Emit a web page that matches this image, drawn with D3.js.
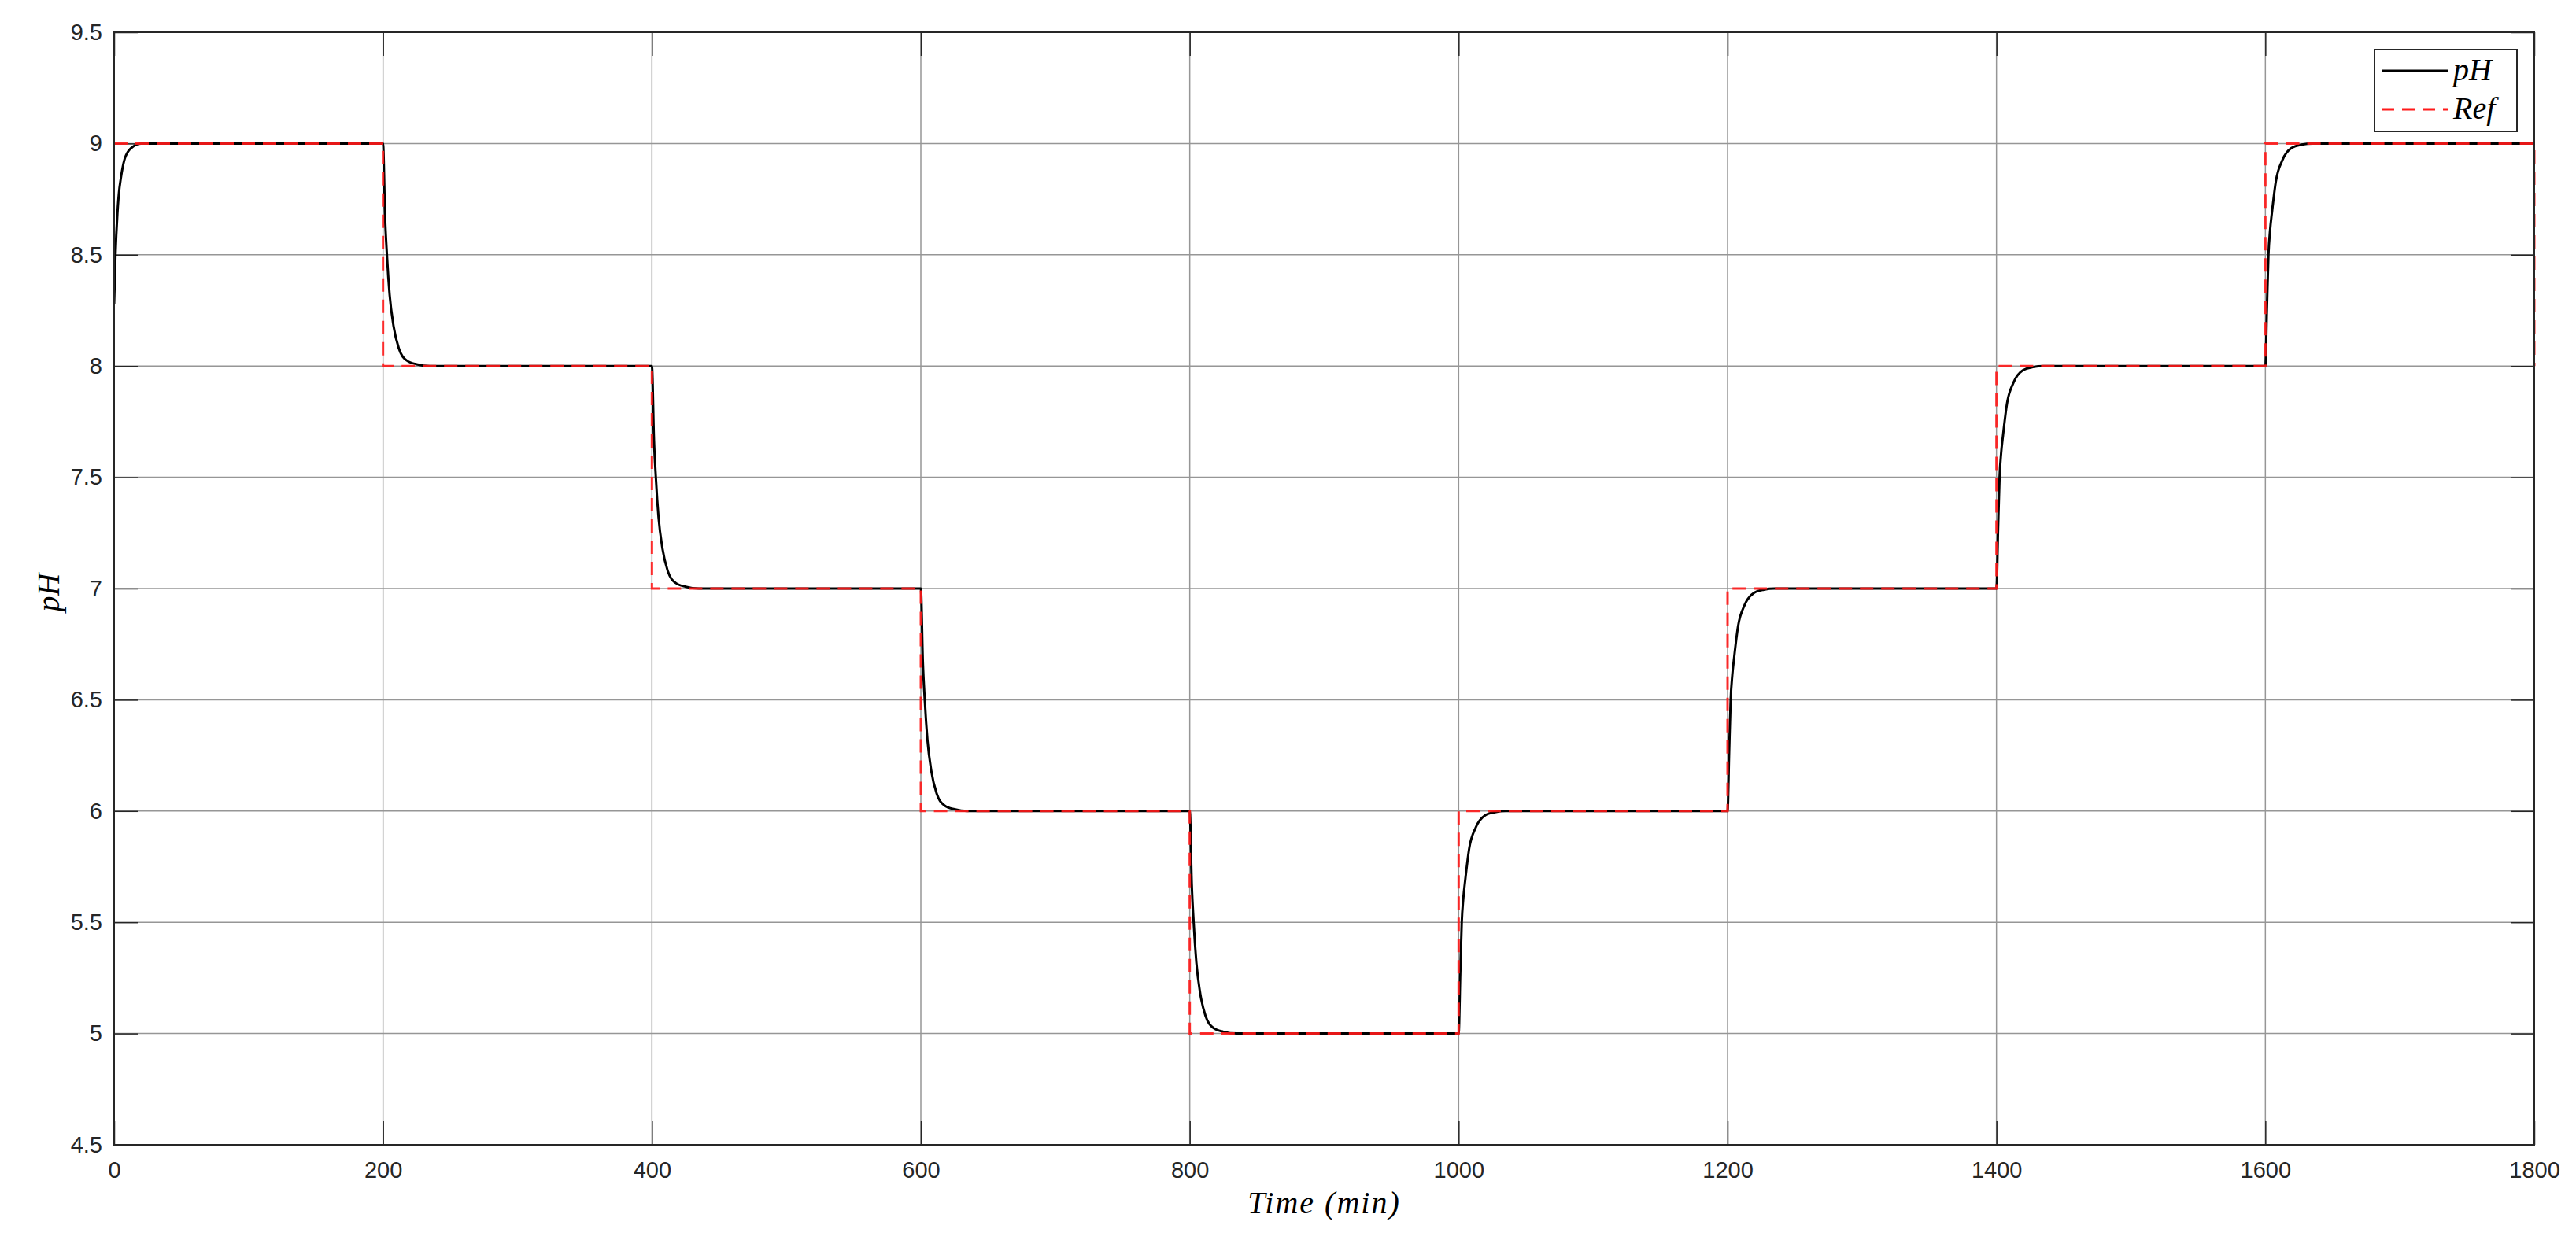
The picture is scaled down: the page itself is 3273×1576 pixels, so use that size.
<!DOCTYPE html>
<html>
<head>
<meta charset="utf-8">
<script src="https://cdn.jsdelivr.net/npm/d3@7"></script>
<style>
  body { margin: 0; background: #fff; }
  .tick text { font-family: "Liberation Sans", Arial, sans-serif; font-size: 29px; fill: #262626; }
  .latex { font-family: "Liberation Serif", "Times New Roman", serif; font-style: italic; fill: #000; }
</style>
</head>
<body>
<svg id="chart" width="3273" height="1576"></svg>
<script>
// axis ticks
var xTicks = [0, 200, 400, 600, 800, 1000, 1200, 1400, 1600, 1800];
var yTicks = [4.5, 5, 5.5, 6, 6.5, 7, 7.5, 8, 8.5, 9, 9.5];

// reference set point (time in min, pH)
var refTime  = [0, 200, 200, 400, 400, 600, 600, 800, 800, 1000, 1000, 1200, 1200, 1400, 1400, 1600, 1600, 1800, 1800];
var refValue = [9, 9,   8,   8,   7,   7,   6,   6,   5,   5,    6,    6,    7,    7,    8,    8,    9,    9,    8];

var phTime = [
  0, 1, 2.5, 3.6, 4.9, 7.8, 12.7, 20, 200,
  201.5, 202.9, 203.9, 204.9, 207.8, 211.7, 217.6, 225, 235, 400,
  401.5, 402.9, 403.9, 404.9, 407.8, 411.7, 417.6, 425, 435, 600,
  601.5, 602.9, 603.9, 604.9, 607.8, 611.7, 617.6, 625, 635, 800,
  801.5, 802.9, 803.9, 804.9, 807.8, 811.7, 817.6, 825, 835, 1000,
  1001.2, 1002.3, 1003.5, 1004.9, 1007.8, 1012.7, 1019.5, 1027, 1035, 1200,
  1201.2, 1202.3, 1203.5, 1204.9, 1207.8, 1212.7, 1219.5, 1227, 1235, 1400,
  1401.2, 1402.3, 1403.5, 1404.9, 1407.8, 1412.7, 1419.5, 1427, 1435, 1600,
  1601.2, 1602.3, 1603.5, 1604.9, 1607.8, 1612.7, 1619.5, 1627, 1635, 1800
];
var phValue = [
  8.28, 8.5, 8.69, 8.78, 8.84, 8.93, 8.98, 9.0, 9.0,
  8.67, 8.5, 8.4, 8.32, 8.18, 8.08, 8.025, 8.008, 8.0, 8.0,
  7.67, 7.5, 7.4, 7.32, 7.18, 7.08, 7.025, 7.008, 7.0, 7.0,
  6.67, 6.5, 6.4, 6.32, 6.18, 6.08, 6.025, 6.008, 6.0, 6.0,
  5.67, 5.5, 5.4, 5.32, 5.18, 5.08, 5.025, 5.008, 5.0, 5.0,
  5.27, 5.5, 5.61, 5.69, 5.83, 5.926, 5.98, 5.995, 6.0, 6.0,
  6.27, 6.5, 6.61, 6.69, 6.83, 6.926, 6.98, 6.995, 7.0, 7.0,
  7.27, 7.5, 7.61, 7.69, 7.83, 7.926, 7.98, 7.995, 8.0, 8.0,
  8.27, 8.5, 8.61, 8.69, 8.83, 8.926, 8.98, 8.995, 9.0, 9.0
];

var legendNames = ["pH", "Ref"];

var plotLeft = 145, plotRight = 3220, plotTop = 41, plotBottom = 1455;
var svg = d3.select("#chart");

var x = d3.scaleLinear().domain([0, 1800]).range([plotLeft, plotRight]);
var y = d3.scaleLinear().domain([4.5, 9.5]).range([plotBottom, plotTop]);

/*
grid lines
*/
var grid = svg.append("g").attr("class", "grid");
grid.selectAll("line.gx")
  .data(xTicks.slice(1, -1)).enter().append("line")
  .attr("x1", function(d) { return x(d); })
  .attr("x2", function(d) { return x(d); })
  .attr("y1", plotTop).attr("y2", plotBottom)
  .attr("stroke", "#969696").attr("stroke-width", 1.5);
grid.selectAll("line.gy")
  .data(yTicks.slice(1, -1)).enter().append("line")
  .attr("x1", plotLeft).attr("x2", plotRight)
  .attr("y1", function(d) { return y(d); })
  .attr("y2", function(d) { return y(d); })
  .attr("stroke", "#969696").attr("stroke-width", 1.5);

/*
axes, ticks pointing inward
*/
var fmt = function(d) { return String(d); };
svg.append("g").attr("transform", "translate(0," + plotBottom + ")")
  .call(d3.axisBottom(x).tickValues(xTicks).tickFormat(fmt).tickSizeInner(-30).tickSizeOuter(0).tickPadding(21));
svg.append("g").attr("transform", "translate(" + plotLeft + ",0)")
  .call(d3.axisLeft(y).tickValues(yTicks).tickFormat(fmt).tickSizeInner(-30).tickSizeOuter(0).tickPadding(15));
svg.append("g").attr("transform", "translate(0," + plotTop + ")")
  .call(d3.axisTop(x).tickValues(xTicks).tickFormat("").tickSizeInner(-30).tickSizeOuter(0));
svg.append("g").attr("transform", "translate(" + plotRight + ",0)")
  .call(d3.axisRight(y).tickValues(yTicks).tickFormat("").tickSizeInner(-30).tickSizeOuter(0));
svg.selectAll(".domain").remove();
svg.selectAll(".tick line").attr("stroke", "#262626").attr("stroke-width", 1.5);

/*
lines
*/
var phData = phTime.map(function(t, i) { return [t, phValue[i]]; });
var refData = refTime.map(function(t, i) { return [t, refValue[i]]; });

var lineSmooth = d3.line()
  .x(function(d) { return x(d[0]); })
  .y(function(d) { return y(d[1]); })
  .curve(d3.curveMonotoneX);
var lineStep = d3.line()
  .x(function(d) { return x(d[0]); })
  .y(function(d) { return y(d[1]); });

svg.append("path").datum(phData)
  .attr("d", lineSmooth)
  .attr("fill", "none").attr("stroke", "#000").attr("stroke-width", 3);
svg.append("path").datum(refData)
  .attr("d", lineStep)
  .attr("fill", "none").attr("stroke", "#ff1a1a").attr("stroke-opacity", 0.9)
  .attr("stroke-width", 3).attr("stroke-dasharray", "17,10");

// box
svg.append("rect")
  .attr("x", plotLeft).attr("y", plotTop)
  .attr("width", plotRight - plotLeft).attr("height", plotBottom - plotTop)
  .attr("fill", "none").attr("stroke", "#262626").attr("stroke-width", 2);

/*
labels
*/
svg.append("text").attr("class", "latex")
  .attr("x", (plotLeft + plotRight) / 2).attr("y", 1542)
  .attr("text-anchor", "middle").attr("font-size", 40)
  .style("letter-spacing", "2px")
  .text("Time (min)");
svg.append("text").attr("class", "latex")
  .attr("transform", "translate(75,753) rotate(-90)")
  .attr("text-anchor", "middle").attr("font-size", 40)
  .text("pH");

/*
legend
*/
var legend = svg.append("g").attr("class", "legend");
legend.append("rect")
  .attr("x", 3017).attr("y", 63).attr("width", 181).attr("height", 104)
  .attr("fill", "#fff").attr("stroke", "#262626").attr("stroke-width", 2);
var rows = legend.selectAll("g.row").data(legendNames).enter().append("g")
  .attr("transform", function(d, i) { return "translate(3026," + (90 + i * 49) + ")"; });
rows.append("line")
  .attr("x1", 0).attr("x2", 85).attr("y1", 0).attr("y2", 0)
  .attr("stroke", function(d, i) { return i === 0 ? "#000" : "#ff1a1a"; })
  .attr("stroke-width", 3)
  .attr("stroke-dasharray", function(d, i) { return i === 0 ? null : "16,10"; });
rows.append("text").attr("class", "latex")
  .attr("x", 91).attr("y", 12).attr("font-size", 40)
  .text(function(d) { return d; });
</script>
</body>
</html>
